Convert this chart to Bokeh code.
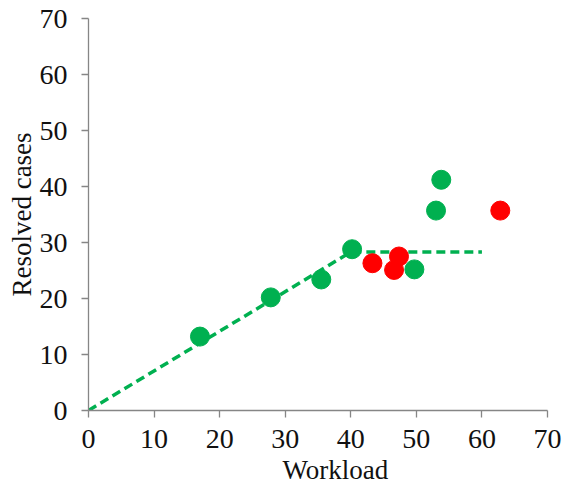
from bokeh.plotting import figure
from bokeh.models import Range1d, FixedTicker, Title
from bokeh.embed import file_html
from bokeh.resources import INLINE

# data
green_x = [17.0, 27.8, 35.5, 40.2, 49.7, 53.0, 53.8]
green_y = [13.2, 20.2, 23.4, 28.8, 25.2, 35.7, 41.2]
red_x = [43.3, 46.6, 47.35, 62.8]
red_y = [26.3, 25.1, 27.5, 35.7]
fit_x = [0, 40, 60]
fit_y = [0, 28.3, 28.3]
ticks = [0, 10, 20, 30, 40, 50, 60, 70]
x_title = "Workload"
y_title = "Resolved cases"

GREEN = "#00B050"
RED = "#FF0000"
FONT = "Liberation Serif"

p = figure(width=564, height=487, output_backend="svg", toolbar_location=None,
           x_range=Range1d(0, 70), y_range=Range1d(0, 70),
           min_border_left=88, min_border_right=17, min_border_top=18, min_border_bottom=77)
p.outline_line_color = None
p.xgrid.visible = False
p.ygrid.visible = False
p.background_fill_color = "white"
p.border_fill_color = "white"

p.line(fit_x, fit_y, line_color=GREEN, line_width=3.5, line_dash="9 5")
p.scatter(green_x, green_y, size=19, fill_color=GREEN, line_color=GREEN)
p.scatter(red_x, red_y, size=19, fill_color=RED, line_color=RED)

for ax in (p.xaxis[0], p.yaxis[0]):
    ax.ticker = FixedTicker(ticks=ticks)
    ax.minor_tick_line_color = None
    ax.major_tick_in = 0
    ax.major_tick_out = 7
    ax.axis_line_color = "#868686"
    ax.major_tick_line_color = "#868686"
    ax.axis_line_width = 1.3
    ax.major_tick_line_width = 1.3
    ax.major_label_text_font = FONT
    ax.major_label_text_font_size = "28px"
    ax.major_label_text_color = "#111111"
    ax.axis_label_text_font = FONT
    ax.axis_label_text_font_size = "27px"
    ax.axis_label_text_font_style = "normal"
    ax.axis_label_text_color = "#111111"

p.yaxis.axis_label = y_title
p.yaxis.major_label_standoff = 14
p.xaxis.major_label_standoff = 12
p.yaxis.axis_label_standoff = 0

# x-axis title, placed slightly right of centre as in the reference
p.add_layout(Title(text=x_title, align="left", offset=194, standoff=5,
                   text_font=FONT, text_font_size="27px", text_font_style="normal",
                   text_color="#111111"), "below")

open("out.html", "w").write(file_html(p, INLINE))
